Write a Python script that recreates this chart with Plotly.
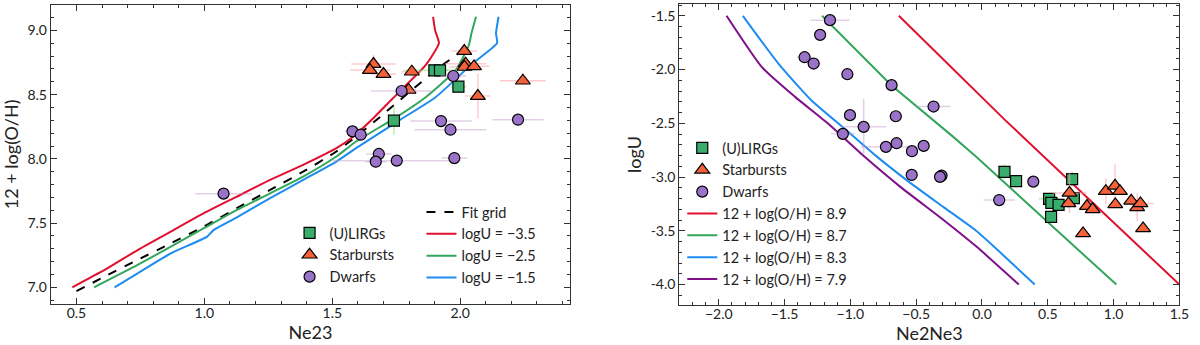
import plotly.graph_objects as go

# ---------------- Left panel data: Ne23 vs 12+log(O/H) ----------------
ulirg_ne23 = [1.899, 1.921, 1.993, 1.741]
ulirg_oh = [8.689, 8.689, 8.562, 8.297]
ulirg_ne23_err = [0.12, 0.03, 0.03, 0.02]
ulirg_oh_err = [0.03, 0.03, 0.04, 0.11]

sb_ne23 = [1.661, 1.647, 1.700, 1.811, 1.798, 2.016, 2.021, 2.017, 2.054, 2.069, 2.245]
sb_oh = [8.738, 8.691, 8.660, 8.678, 8.536, 8.839, 8.741, 8.715, 8.720, 8.489, 8.608]
sb_ne23_err = [0.087, 0.078, 0.05, 0.04, 0.03, 0.05, 0.08, 0.06, 0.06, 0.05, 0.09]
sb_oh_err = [0.07, 0.03, 0.03, 0.04, 0.03, 0.03, 0.03, 0.03, 0.03, 0.175, 0.03]

dw_ne23 = [1.075, 1.579, 1.611, 1.682, 1.670, 1.752, 1.977, 1.771, 1.973, 1.925, 1.962, 2.226]
dw_oh = [7.729, 8.214, 8.188, 8.038, 7.978, 7.986, 8.006, 8.528, 8.645, 8.294, 8.227, 8.305]
dw_ne23_err = [0.11, 0.03, 0.03, 0.05, 0.04, 0.25, 0.05, 0.12, 0.05, 0.12, 0.14, 0.10]
dw_oh_err = [0.02] * 12

fit_ne23 = [0.5, 0.61, 0.739, 0.869, 0.998, 1.127, 1.257, 1.386, 1.516, 1.58, 1.671, 1.904, 2.021]
fit_oh = [6.97, 7.083, 7.213, 7.343, 7.473, 7.616, 7.758, 7.90, 8.057, 8.153, 8.30, 8.69, 8.86]

u35_ne23 = [0.484, 0.61, 0.739, 0.869, 0.998, 1.127, 1.257, 1.386, 1.516, 1.58, 1.652, 1.756, 1.865, 1.917, 1.902, 1.894]
u35_oh = [7.0, 7.135, 7.29, 7.434, 7.577, 7.706, 7.836, 7.953, 8.083, 8.17, 8.30, 8.51, 8.73, 8.90, 9.0, 9.106]

u25_ne23 = [0.569, 0.739, 0.869, 0.998, 1.127, 1.257, 1.386, 1.516, 1.593, 1.743, 1.865, 1.982, 2.034, 2.044, 2.062]
u25_oh = [7.0, 7.174, 7.317, 7.46, 7.603, 7.732, 7.862, 8.018, 8.135, 8.315, 8.48, 8.69, 8.886, 8.977, 9.106]

u15_ne23 = [0.649, 0.739, 0.869, 1.011, 1.037, 1.127, 1.257, 1.386, 1.516, 1.593, 1.762, 1.904, 2.047, 2.144, 2.14, 2.15]
u15_oh = [7.0, 7.109, 7.265, 7.395, 7.447, 7.545, 7.694, 7.836, 7.979, 8.083, 8.30, 8.48, 8.74, 8.90, 8.977, 9.106]

# ---------------- Right panel data: Ne2Ne3 vs logU ----------------
r_ulirg_x = [0.171, 0.259, 0.685, 0.510, 0.698, 0.527, 0.582, 0.525]
r_ulirg_y = [-2.951, -3.038, -3.019, -3.202, -3.196, -3.24, -3.258, -3.37]
r_ulirg_xerr = [0.03, 0.03, 0.03, 0.08, 0.03, 0.05, 0.03, 0.03]
r_ulirg_yerr = [0.07, 0.06, 0.07, 0.03, 0.04, 0.03, 0.03, 0.03]

r_sb_x = [0.665, 0.657, 0.798, 0.841, 0.768, 0.941, 1.011, 1.048, 1.013, 1.134, 1.179, 1.204, 1.224]
r_sb_y = [-3.147, -3.245, -3.27, -3.30, -3.524, -3.131, -3.081, -3.131, -3.254, -3.221, -3.282, -3.245, -3.478]
r_sb_xerr = [0.13, 0.04, 0.03, 0.03, 0.03, 0.03, 0.03, 0.03, 0.03, 0.05, 0.03, 0.10, 0.03]
r_sb_yerr = [0.19, 0.05, 0.03, 0.03, 0.03, 0.12, 0.20, 0.03, 0.03, 0.05, 0.13, 0.03, 0.03]

r_dw_x = [-1.155, -1.230, -1.348, -1.279, -1.023, -0.687, -1.003, -0.368, -0.655, -0.899,
          -1.057, -0.730, -0.649, -0.443, -0.532, -0.534, -0.307, -0.319, 0.390, 0.131]
r_dw_y = [-1.540, -1.677, -1.885, -1.944, -2.043, -2.145, -2.424, -2.344, -2.434, -2.533,
          -2.598, -2.719, -2.685, -2.710, -2.759, -2.980, -2.986, -2.998, -3.042, -3.214]
r_dw_xerr = [0.15, 0.04, 0.06, 0.05, 0.03, 0.05, 0.03, 0.13, 0.05, 0.17,
             0.09, 0.19, 0.03, 0.03, 0.03, 0.03, 0.03, 0.03, 0.03, 0.12]
r_dw_yerr = [0.04, 0.03, 0.03, 0.03, 0.03, 0.04, 0.03, 0.03, 0.03, 0.26,
             0.03, 0.04, 0.03, 0.03, 0.03, 0.03, 0.03, 0.03, 0.03, 0.03]

oh89_x = [-0.632, 0.176, 1.5]
oh89_y = [-1.5, -2.47, -4.0]
oh87_x = [-1.215, -0.689, -0.225, -0.044, 1.021]
oh87_y = [-1.5, -2.145, -2.619, -2.812, -4.0]
oh83_x = [-1.817, -1.547, -1.297, -1.046, -0.796, -0.545, -0.295, -0.044, 0.401]
oh83_y = [-1.5, -1.944, -2.285, -2.548, -2.812, -3.054, -3.277, -3.50, -4.0]
oh79_x = [-1.941, -1.674, -1.42, -1.17, -0.92, -0.62, -0.29, -0.04, 0.28]
oh79_y = [-1.5, -1.975, -2.254, -2.502, -2.781, -3.091, -3.401, -3.649, -4.0]

left_xticks = [0.5, 1.0, 1.5, 2.0]
left_yticks = [7.0, 7.5, 8.0, 8.5, 9.0]
right_xticks = [-2.0, -1.5, -1.0, -0.5, 0.0, 0.5, 1.0, 1.5]
right_xticklabels = ["\u22122.0", "\u22121.5", "\u22121.0", "\u22120.5", "0.0", "0.5", "1.0", "1.5"]
right_yticks = [-4.0, -3.5, -3.0, -2.5, -2.0, -1.5]
right_yticklabels = ["-4.0", "-3.5", "-3.0", "-2.5", "-2.0", "-1.5"]

# ---------------- Styles ----------------
C_RED = "#e0102e"
C_GREEN = "#33a65c"
C_BLUE = "#1e8cf0"
C_PURPLE = "#800f8a"
SQ_FILL = "#3aad6c"
TRI_FILL = "#f5623a"
CIR_FILL = "#9a72c8"
ERR_G = "rgba(120,230,100,0.55)"
ERR_R = "rgba(255,160,170,0.55)"
ERR_P = "rgba(190,150,200,0.45)"
FONT = "Lato"

fig = go.Figure()

def line(x, y, color, name, xa, ya, legend, dash="solid", rank=1, shape="linear"):
    fig.add_trace(go.Scatter(x=x, y=y, mode="lines", name=name,
                             line=dict(color=color, width=2, dash=dash, shape=shape,
                                       smoothing=0.5 if shape == "spline" else None),
                             xaxis=xa, yaxis=ya, legend=legend, legendrank=rank))

def pts(x, y, xe, ye, sym, size, fill, ecol, name, xa, ya, legend, rank, show=True):
    fig.add_trace(go.Scatter(
        x=x, y=y, mode="markers", name=name, showlegend=show,
        marker=dict(symbol=sym, size=size, color=fill, line=dict(color="black", width=1.2)),
        error_x=dict(type="data", array=xe, color=ecol, thickness=1.5, width=0),
        error_y=dict(type="data", array=ye, color=ecol, thickness=1.5, width=0),
        xaxis=xa, yaxis=ya, legend=legend, legendrank=rank))

# left panel lines
line(fit_ne23, fit_oh, "black", "Fit grid", "x", "y", "legend2", dash="dash", rank=1, shape="spline")
line(u35_ne23, u35_oh, C_RED, "logU = \u22123.5", "x", "y", "legend2", rank=2, shape="spline")
line(u25_ne23, u25_oh, C_GREEN, "logU = \u22122.5", "x", "y", "legend2", rank=3, shape="spline")
line(u15_ne23, u15_oh, C_BLUE, "logU = \u22121.5", "x", "y", "legend2", rank=4, shape="spline")
# left panel points
pts(ulirg_ne23, ulirg_oh, ulirg_ne23_err, ulirg_oh_err, "square", 11, SQ_FILL, ERR_G, "(U)LIRGs", "x", "y", "legend", 1)
pts(sb_ne23, sb_oh, sb_ne23_err, sb_oh_err, "triangle-up", 13, TRI_FILL, ERR_R, "Starbursts", "x", "y", "legend", 2)
pts(dw_ne23, dw_oh, dw_ne23_err, dw_oh_err, "circle", 11, CIR_FILL, ERR_P, "Dwarfs", "x", "y", "legend", 3)

# right panel lines
line(oh89_x, oh89_y, C_RED, "12 + log(O/H) = 8.9", "x2", "y2", "legend3", rank=4)
line(oh87_x, oh87_y, C_GREEN, "12 + log(O/H) = 8.7", "x2", "y2", "legend3", rank=5)
line(oh83_x, oh83_y, C_BLUE, "12 + log(O/H) = 8.3", "x2", "y2", "legend3", rank=6, shape="spline")
line(oh79_x, oh79_y, C_PURPLE, "12 + log(O/H) = 7.9", "x2", "y2", "legend3", rank=7, shape="spline")
# right panel points
pts(r_ulirg_x, r_ulirg_y, r_ulirg_xerr, r_ulirg_yerr, "square", 11, SQ_FILL, ERR_G, "(U)LIRGs", "x2", "y2", "legend3", 1)
pts(r_sb_x, r_sb_y, r_sb_xerr, r_sb_yerr, "triangle-up", 13, TRI_FILL, ERR_R, "Starbursts", "x2", "y2", "legend3", 2)
pts(r_dw_x, r_dw_y, r_dw_xerr, r_dw_yerr, "circle", 11, CIR_FILL, ERR_P, "Dwarfs", "x2", "y2", "legend3", 3)

AX = "#333333"
def axis_common(**kw):
    d = dict(showline=True, linecolor=AX, linewidth=1.2, mirror="allticks",
             ticks="inside", ticklen=6, tickwidth=1, tickcolor=AX,
             minor=dict(ticks="inside", ticklen=3, tickwidth=1, tickcolor=AX),
             showgrid=False, zeroline=False,
             tickfont=dict(family=FONT, size=14, color="#222"),
             title_font=dict(family=FONT, size=18, color="#222"))
    d.update(kw)
    return d

fig.update_layout(
    width=1200, height=345,
    margin=dict(l=0, r=0, t=0, b=0),
    paper_bgcolor="white", plot_bgcolor="white",
    font=dict(family=FONT, size=14, color="#222"),
    xaxis=axis_common(domain=[51.3 / 1200, 575 / 1200], range=[0.4, 2.43],
                      tickvals=left_xticks, tickformat=".1f",
                      minor_dtick=0.1, minor_tick0=0, ticklabelstandoff=-4,
                      title=dict(text="Ne23", standoff=4), anchor="y"),
    yaxis=axis_common(domain=[1 - 304 / 345, 1 - 4.7 / 345], range=[6.87, 9.2],
                      tickvals=left_yticks, tickformat=".1f",
                      minor_dtick=0.1, minor_tick0=0,
                      title=dict(text="12 + log(O/H)", standoff=4), anchor="x"),
    xaxis2=axis_common(domain=[685 / 1200, 1189.3 / 1200], range=[-2.3, 1.5],
                       tickvals=right_xticks, ticktext=right_xticklabels,
                       minor_dtick=0.1, minor_tick0=0, ticklabelstandoff=-4,
                       title=dict(text="Ne2Ne3", standoff=4), anchor="y2"),
    yaxis2=axis_common(domain=[1 - 305 / 345, 1 - 4 / 345], range=[-4.19, -1.39],
                       tickvals=right_yticks, ticktext=right_yticklabels,
                       minor_dtick=0.1, minor_tick0=0,
                       title=dict(text="logU", standoff=4), anchor="x2"),
    legend=dict(x=292 / 1200, y=1 - 217 / 345, xanchor="left", yanchor="top",
                bgcolor="rgba(0,0,0,0)", font=dict(family=FONT, size=14.5),
                tracegroupgap=0, itemwidth=30),
    legend2=dict(x=425 / 1200, y=1 - 196 / 345, xanchor="left", yanchor="top",
                 bgcolor="rgba(0,0,0,0)", font=dict(family=FONT, size=14.5),
                 tracegroupgap=0, itemwidth=30),
    legend3=dict(x=688 / 1200, y=1 - 132 / 345, xanchor="left", yanchor="top",
                 bgcolor="rgba(0,0,0,0)", font=dict(family=FONT, size=14.5),
                 tracegroupgap=0, itemwidth=30),
)

fig.write_html("out.html", config={"displayModeBar": False},
               post_script="document.body.style.margin='0px';")
